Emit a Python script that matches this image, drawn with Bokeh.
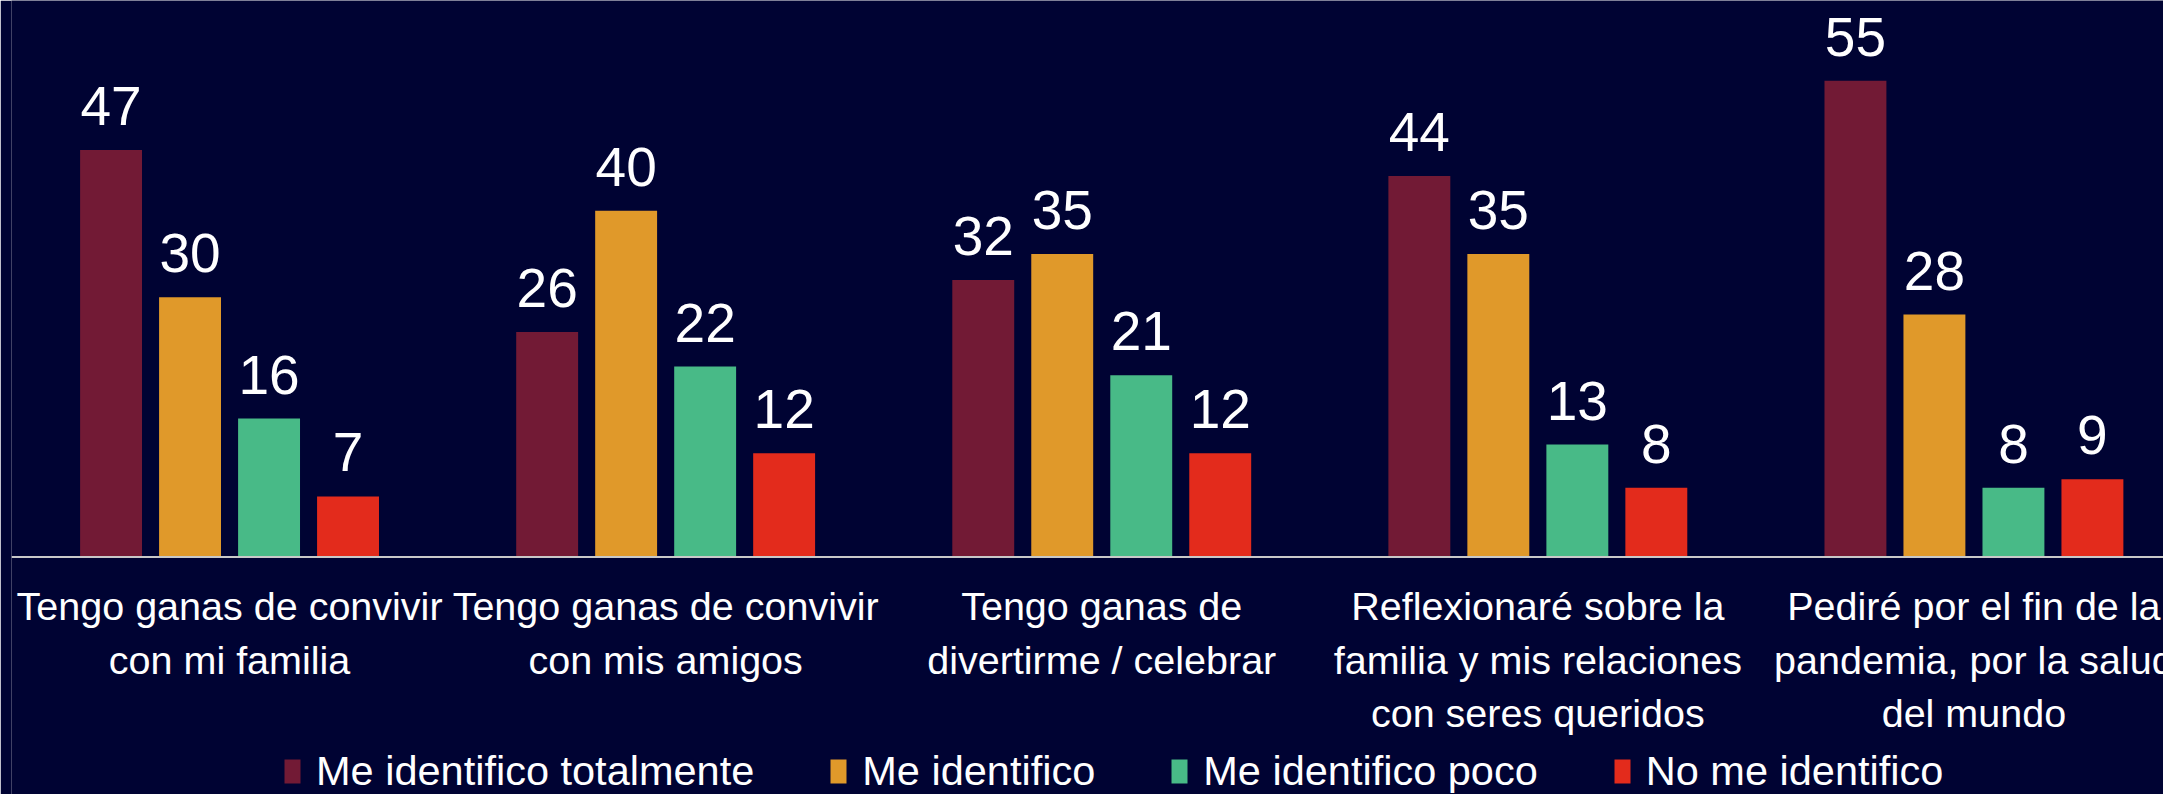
import numpy as np
from bokeh.plotting import figure
from bokeh.models import Span, Range1d
from bokeh.core.properties import value
from bokeh.embed import file_html
from bokeh.resources import INLINE

categories = [
    "Tengo ganas de convivir\ncon mi familia",
    "Tengo ganas de convivir\ncon mis amigos",
    "Tengo ganas de\ndivertirme / celebrar",
    "Reflexionaré sobre la\nfamilia y mis relaciones\ncon seres queridos",
    "Pediré por el fin de la\npandemia, por la salud\ndel mundo",
]
series = ["Me identifico totalmente", "Me identifico", "Me identifico poco", "No me identifico"]
totalmente = [47, 26, 32, 44, 55]
identifico = [30, 40, 35, 35, 28]
poco = [16, 22, 21, 13, 8]
no_identifico = [7, 12, 12, 8, 9]
values_all = [totalmente, identifico, poco, no_identifico]
colors = ["#721A35", "#E0992A", "#48BA87", "#E32B1C"]

BG = "#000333"
FONT = value("Liberation Sans")

p = figure(
    width=2163, height=794,
    x_range=Range1d(-0.5, 4.4347), y_range=Range1d(-27.41, 64.27),
    output_backend="svg", toolbar_location=None,
    x_axis_location=None, y_axis_location=None,
    min_border_left=11, min_border_right=0, min_border_top=0, min_border_bottom=0,
    background_fill_color=BG, border_fill_color=BG, outline_line_color=None,
)
p.grid.visible = False

idx = np.arange(len(categories))
offsets = [-0.2717, -0.0906, 0.0906, 0.2717]

for j, (name, vals) in enumerate(zip(series, values_all)):
    xs = idx + offsets[j]
    p.vbar(x=xs, top=vals, bottom=0, width=0.142, fill_color=colors[j],
           line_color=None, legend_label=name)
    p.text(x=xs, y=vals, text=[str(v) for v in vals], text_align="center",
           text_baseline="alphabetic", y_offset=-44, text_font=FONT,
           text_font_size="55px", text_color="white")

p.add_layout(Span(location=0, dimension="width", line_color="#C8C8C8", line_width=2))

p.text(x=idx, y=[0] * len(categories), text=categories, text_align="center",
       text_baseline="top", y_offset=27, text_font=FONT, text_font_size="39.5px",
       text_line_height=1.22, text_color="white")

lg = p.legend[0]
lg.location = (271, -1)
lg.orientation = "horizontal"
lg.label_text_font = "Liberation Sans"
lg.label_text_font_size = "41.5px"
lg.label_text_color = "white"
lg.glyph_width = 20
lg.glyph_height = 30
lg.label_standoff = 14
lg.spacing = 74
lg.padding = 0
lg.margin = 0
lg.background_fill_alpha = 0
lg.border_line_alpha = 0

open("out.html", "w").write(file_html(p, INLINE))
